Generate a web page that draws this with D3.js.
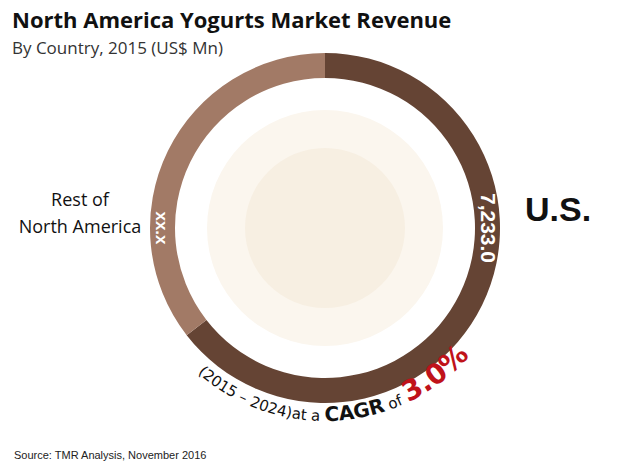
<!DOCTYPE html>
<html><head><meta charset="utf-8">
<script src="https://cdn.jsdelivr.net/npm/d3@7"></script>
<style>body{margin:0;background:#fff}</style></head>
<body><svg id="c" width="620" height="470"></svg>
<script>
const countries = ["U.S.", "Rest of North America"];
const values = [7233.0, 3980];          // rest estimated from arc size
const valueLabels = ["7,233.0", "xx.x"];
const colors = ["#654434", "#a27a66"];

const svg = d3.select("#c");
const cx = 325, cy = 228, rO = 175, rI = 150;
const g = svg.append("g").attr("transform", `translate(${cx},${cy})`);
const pie = d3.pie().sort(null).value(d => d);
const arcs = pie(values);
const arc = d3.arc().innerRadius(rI).outerRadius(rO);
g.selectAll("path").data(arcs).join("path").attr("d", arc).attr("fill", (d,i)=>colors[i]);
g.append("circle").attr("r", 118).attr("fill", "#fbf6ee");
g.append("circle").attr("r", 80).attr("fill", "#f7efe2");

g.append("text").attr("transform", `translate(${rO-12},0) rotate(90)`).attr("text-anchor","middle")
 .attr("dy","0.35em").attr("fill","#fff").attr("font-family","Liberation Sans, Arial").attr("font-weight","bold")
 .attr("font-size",21).text(valueLabels[0]);
g.append("text").attr("transform", `translate(${-rO+12},0) rotate(90)`).attr("text-anchor","middle")
 .attr("dy","0.35em").attr("fill","#fff").attr("font-family","Liberation Sans, Arial").attr("font-weight","bold")
 .attr("font-size",17).text(valueLabels[1]);

svg.append("text").attr("x",525).attr("y",221).attr("font-family","Liberation Sans, Arial").attr("font-weight","bold")
 .attr("font-size",34).attr("fill","#111").text(countries[0]);
svg.append("text").attr("x",80).attr("y",206).attr("text-anchor","middle").attr("font-family","Open Sans, Liberation Sans").attr("font-size",18).attr("fill","#111").text("Rest of");
svg.append("text").attr("x",80).attr("y",233).attr("text-anchor","middle").attr("font-family","Open Sans, Liberation Sans").attr("font-size",18).attr("fill","#111").text("North America");

svg.append("text").attr("x",12).attr("y",28).attr("font-family","Open Sans, Liberation Sans").attr("font-weight","bold").attr("font-size",22).attr("fill","#111").text("North America Yogurts Market Revenue");
svg.append("text").attr("x",12).attr("y",54).attr("font-family","Open Sans, Liberation Sans").attr("font-size",17).attr("fill","#333").text("By Country, 2015 (US$ Mn)");
svg.append("text").attr("x",14).attr("y",459).attr("font-family","Liberation Sans, Arial").attr("font-size",11).attr("fill","#222").text("Source: TMR Analysis, November 2016");

const rc = 193;
svg.append("defs").append("path").attr("id","cp")
 .attr("d", `M ${cx-rc},${cy} A ${rc},${rc} 0 0 0 ${cx+rc},${cy}`);
const tp = svg.append("text").attr("font-family","DejaVu Sans, Liberation Sans").attr("fill","#111")
 .append("textPath").attr("href","#cp").attr("startOffset","52%").attr("text-anchor","middle");
tp.append("tspan").attr("font-size",15).text("(2015 – 2024)at a ");
tp.append("tspan").attr("font-size",20).attr("font-weight","bold").text("CAGR");
tp.append("tspan").attr("font-size",15).text(" of  ");
tp.append("tspan").attr("font-size",28).attr("font-weight","bold").attr("fill","#c0121a").text("3.0%");
</script></body></html>
